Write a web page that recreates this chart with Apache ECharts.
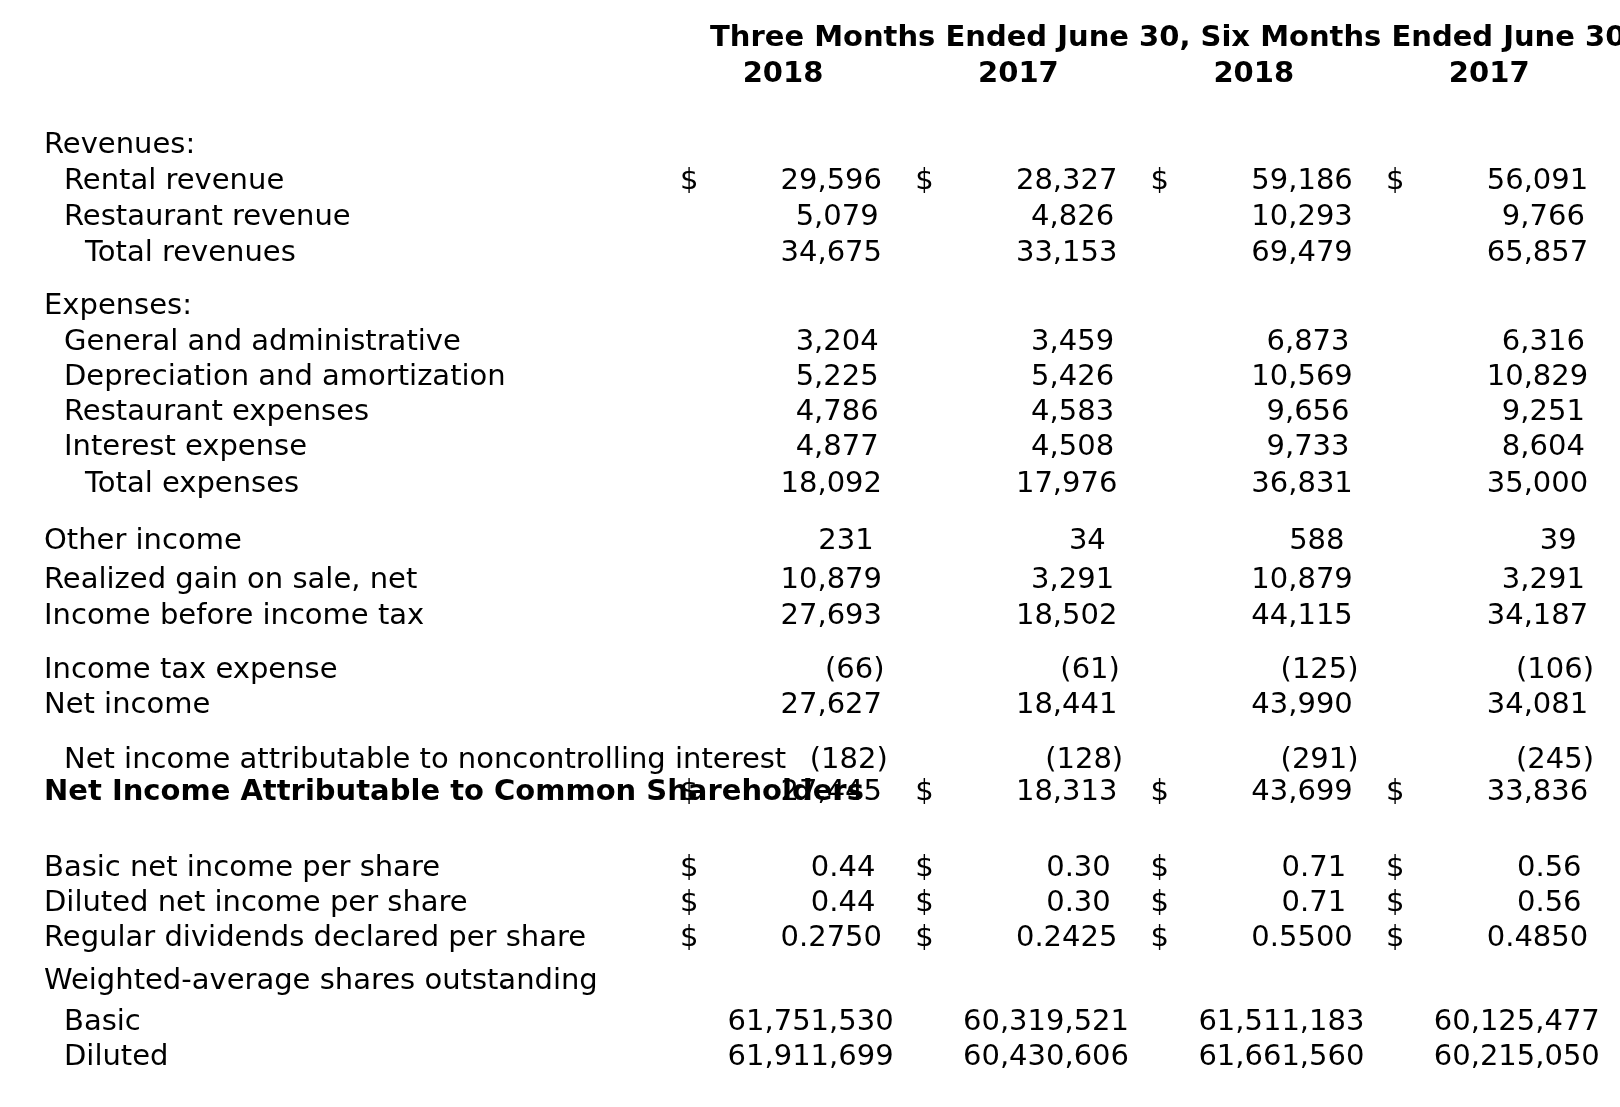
<!DOCTYPE html>
<html><head><meta charset="utf-8">
<script src="https://cdn.jsdelivr.net/npm/echarts@6/dist/echarts.min.js"></script>
<style>html,body{margin:0;padding:0;background:#fff}#c{width:1620px;height:1107px}</style>
</head><body><div id="c"></div>
<script>
// ---------------- data ----------------
const headerGroups = ['Three Months Ended June 30,', 'Six Months Ended June 30,'];
const yearLabels = ['2018', '2017', '2018', '2017'];
const rowLabels = [
  'Revenues:', 'Rental revenue', 'Restaurant revenue', 'Total revenues',
  'Expenses:', 'General and administrative', 'Depreciation and amortization',
  'Restaurant expenses', 'Interest expense', 'Total expenses',
  'Other income', 'Realized gain on sale, net', 'Income before income tax',
  'Income tax expense', 'Net income',
  'Net income attributable to noncontrolling interest',
  'Net Income Attributable to Common Shareholders',
  'Basic net income per share', 'Diluted net income per share',
  'Regular dividends declared per share',
  'Weighted-average shares outstanding', 'Basic', 'Diluted'
];
const threeMonths2018 = [null, 29596, 5079, 34675, null, 3204, 5225, 4786, 4877, 18092,
  231, 10879, 27693, -66, 27627, -182, 27445, 0.44, 0.44, 0.2750, null, 61751530, 61911699];
const threeMonths2017 = [null, 28327, 4826, 33153, null, 3459, 5426, 4583, 4508, 17976,
  34, 3291, 18502, -61, 18441, -128, 18313, 0.30, 0.30, 0.2425, null, 60319521, 60430606];
const sixMonths2018 = [null, 59186, 10293, 69479, null, 6873, 10569, 9656, 9733, 36831,
  588, 10879, 44115, -125, 43990, -291, 43699, 0.71, 0.71, 0.5500, null, 61511183, 61661560];
const sixMonths2017 = [null, 56091, 9766, 65857, null, 6316, 10829, 9251, 8604, 35000,
  39, 3291, 34187, -106, 34081, -245, 33836, 0.56, 0.56, 0.4850, null, 60125477, 60215050];
const columns = [threeMonths2018, threeMonths2017, sixMonths2018, sixMonths2017];
const rowDecimals = [0,0,0,0,0,0,0,0,0,0,0,0,0,0,0,0,0,2,2,4,0,0,0];
const dollarRows = [1, 16, 17, 18, 19];

// ---------------- layout / style ----------------
const FONT = '"DejaVu Sans", sans-serif';
const FS = 29;
const rowLevel = [0,1,1,2,0,1,1,1,1,2,0,0,0,0,0,1,0,0,0,0,0,1,1];
const boldRows = [16];
const levelX = [44, 64, 85];
const rowY = [145.5,181,217.5,253.5,306.5,342.5,377.5,412.5,447.5,484.5,541.5,580.5,616.5,670.5,705.5,760.5,792.5,868.5,903.5,938.5,981.5,1022.5,1057.5];
const colRight = c => 882 + 235.4 * c;
const dollarX = c => 680 + 235.3 * c;
const headerY = [38, 74];

const ctx = document.createElement('canvas').getContext('2d');
ctx.font = FS + 'px ' + FONT;
const measure = s => ctx.measureText(s).width;
const wRef = measure('29,596');

function fmt(v, dec) {
  if (v == null) return '';
  const s = Math.abs(v).toLocaleString('en-US', {minimumFractionDigits: dec, maximumFractionDigits: dec});
  return v < 0 ? '(' + s + ')' : s;
}

const items = [];
// header
items.push({x: 710, y: headerY[0], text: headerGroups.join(' '), bold: true, align: 'left'});
yearLabels.forEach((t, c) => items.push({x: colRight(c) - 99, y: headerY[1], text: t, bold: true, align: 'center'}));
// rows
rowLabels.forEach((lab, r) => {
  items.push({x: levelX[rowLevel[r]], y: rowY[r], text: lab, bold: boldRows.includes(r), align: 'left'});
  columns.forEach((col, c) => {
    const v = col[r];
    if (v == null) return;
    const s = fmt(v, rowDecimals[r]);
    const x = colRight(c) + 0.18 * (measure(s) - wRef) + (v < 0 ? 10 : 0);
    items.push({x: x, y: rowY[r], text: s, bold: false, align: 'right'});
    if (dollarRows.includes(r)) items.push({x: dollarX(c), y: rowY[r], text: '$', bold: false, align: 'left'});
  });
});
items.push({x: 500, y: rowY[20], text: '.', bold: false, align: 'left'});

const chart = echarts.init(document.getElementById('c'), null, {renderer: 'canvas'});
chart.setOption({
  backgroundColor: '#fff',
  animation: false,
  grid: {left: 0, right: 0, top: 0, bottom: 0},
  xAxis: {type: 'value', min: 0, max: 1620, show: false},
  yAxis: {type: 'value', min: 0, max: 1107, inverse: true, show: false},
  series: [{
    type: 'custom',
    silent: true,
    clip: false,
    data: items.map(it => [it.x, it.y]),
    renderItem: function (params, api) {
      const it = items[params.dataIndex];
      const p = api.coord([it.x, it.y]);
      return {
        type: 'text', x: p[0], y: p[1],
        style: {text: it.text, fill: '#000', fontSize: FS, fontFamily: FONT,
          fontWeight: it.bold ? 'bold' : 'normal', align: it.align, verticalAlign: 'middle'}
      };
    }
  }]
});
</script></body></html>
